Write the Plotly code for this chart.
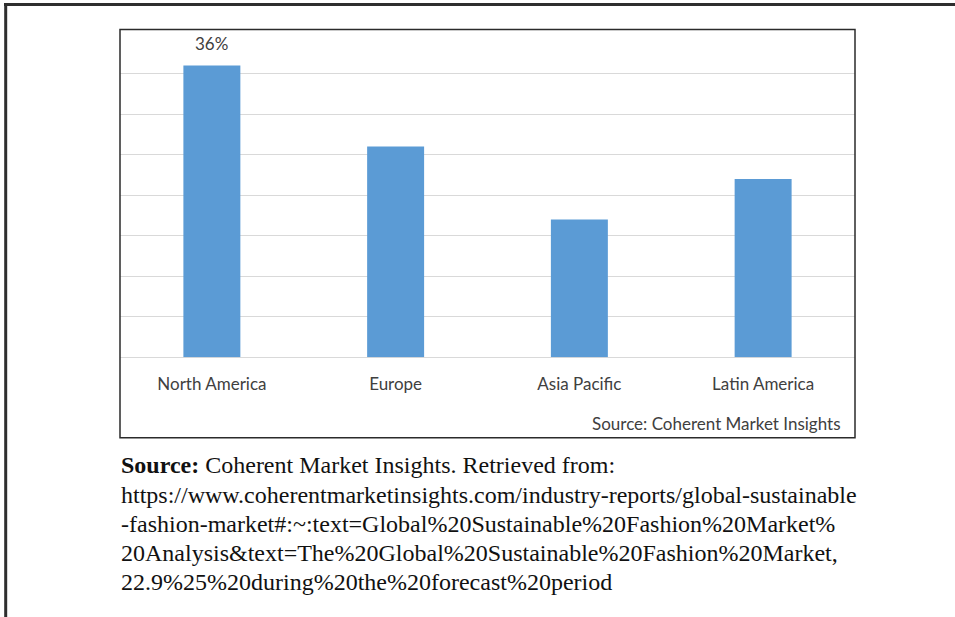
import plotly.graph_objects as go

# Regional share of the global sustainable fashion market (%)
regions = ["North America", "Europe", "Asia Pacific", "Latin America"]
share = [36, 26, 17, 22]
labelled = [True, False, False, False]
grid_ticks = [5, 10, 15, 20, 25, 30, 35]

chart_source = "Source: Coherent Market Insights"
caption_lines = [
    "<b>Source:</b> Coherent Market Insights. Retrieved from:",
    "https://www.coherentmarketinsights.com/industry-reports/global-sustainable",
    "-fashion-market#:~:text=Global%20Sustainable%20Fashion%20Market%",
    "20Analysis&text=The%20Global%20Sustainable%20Fashion%20Market,",
    "22.9%25%20during%20the%20forecast%20period",
]

W, H = 955, 617
BAR_COLOR = "#5B9BD5"
TEXT_COLOR = "#404040"
GRID_COLOR = "#D9D9D9"
SANS = "Lato, 'Open Sans', sans-serif"
SERIF = "'Liberation Serif', 'Times New Roman', serif"


def px_x(x):
    return x / W


def px_y(y):
    return 1 - y / H


box_left, box_right, box_top, box_bottom = 120, 855, 29.5, 437.7
plot_bottom, plot_top = 357.3, 33.0

fig = go.Figure(
    go.Bar(
        x=regions,
        y=share,
        marker=dict(color=BAR_COLOR, line=dict(width=0)),
        width=0.31,
        cliponaxis=False,
        hoverinfo="skip",
    )
)

fig.update_layout(
    width=W,
    height=H,
    margin=dict(l=0, r=0, t=0, b=0),
    paper_bgcolor="white",
    plot_bgcolor="white",
    showlegend=False,
    xaxis=dict(
        domain=[px_x(box_left), px_x(box_right)],
        showline=False,
        showgrid=False,
        ticks="",
        tickfont=dict(family=SANS, size=17, color=TEXT_COLOR),
        ticklabelstandoff=15,
    ),
    yaxis=dict(
        domain=[px_y(plot_bottom), px_y(plot_top)],
        range=[0, 40],
        tickvals=grid_ticks,
        showticklabels=False,
        showgrid=True,
        gridcolor=GRID_COLOR,
        gridwidth=1.3,
        zeroline=True,
        zerolinecolor=GRID_COLOR,
        zerolinewidth=1.3,
        showline=False,
        ticks="",
    ),
)

shapes = [
    # chart frame
    dict(type="rect", xref="paper", yref="paper",
         x0=px_x(box_left), x1=px_x(box_right), y0=px_y(box_bottom), y1=px_y(box_top),
         line=dict(color="#2b2b2b", width=1.5), fillcolor="rgba(0,0,0,0)"),
    # page edges
    dict(type="line", xref="paper", yref="paper",
         x0=px_x(4), x1=1, y0=px_y(4.5), y1=px_y(4.5),
         line=dict(color="#2e2e2e", width=3)),
    dict(type="line", xref="paper", yref="paper",
         x0=px_x(5.7), x1=px_x(5.7), y0=px_y(3), y1=0,
         line=dict(color="#2e2e2e", width=3)),
]

annotations = [
    dict(text=chart_source, xref="paper", yref="paper",
         x=px_x(843), y=px_y(423), xanchor="right", yanchor="middle",
         showarrow=False, font=dict(family=SANS, size=17, color=TEXT_COLOR)),
]

# value labels above the bars that carry one
for region, v, show in zip(regions, share, labelled):
    if show:
        annotations.append(
            dict(text=f"{v}%", x=region, y=v, xref="x", yref="y",
                 xanchor="center", yanchor="bottom", yshift=9,
                 showarrow=False, font=dict(family=SANS, size=17, color=TEXT_COLOR))
        )

line_y = [465, 494.5, 524, 553, 582]
for txt, y in zip(caption_lines, line_y):
    annotations.append(
        dict(text=txt, xref="paper", yref="paper",
             x=px_x(119), y=px_y(y), xanchor="left", yanchor="middle",
             showarrow=False, font=dict(family=SERIF, size=24, color="#111111"))
    )

fig.update_layout(shapes=shapes, annotations=annotations)

fig.write_html("out.html")
